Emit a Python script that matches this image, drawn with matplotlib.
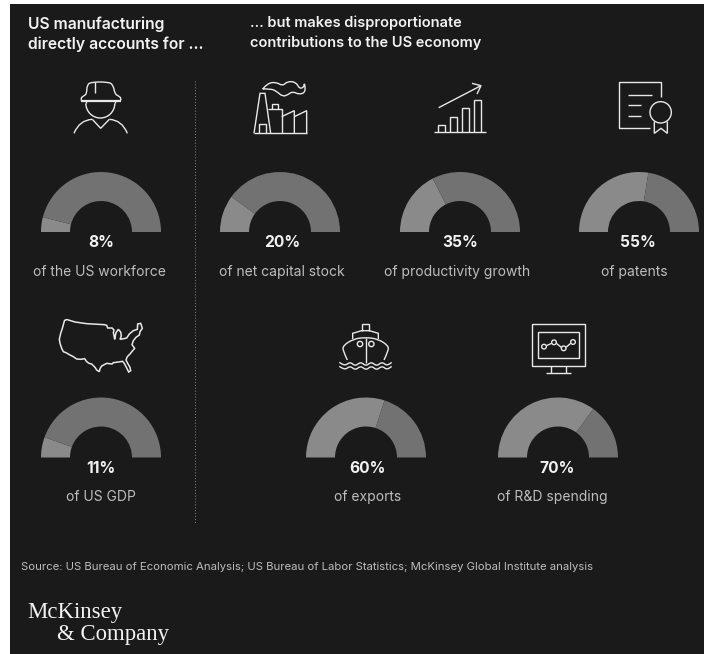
# -*- coding: utf-8 -*-
# US manufacturing share of the economy, half-donut gauges on a dark panel

#==================================
#          modules
#==================================
import numpy as np
import matplotlib
matplotlib.use('Agg')
import matplotlib.pyplot as plt
from matplotlib.patches import Wedge, Rectangle, Circle, Arc, PathPatch
from matplotlib.path import Path

#==================================
#          data
#==================================
shares = [8, 20, 35, 55, 11, 60, 70]
captions = ['of the US workforce', 'of net capital stock', 'of productivity growth',
            'of patents', 'of US GDP', 'of exports', 'of R&D spending']
centers_x = [101, 280, 460, 639, 101, 366, 558]
bases_y = [232, 232, 232, 232, 457.5, 457.5, 457.5]
caption_x = [99.5, 282, 457, 634, 101, 367.5, 552.5]
caption_y = [276, 276, 276, 276, 501, 501, 501]
percent_x = [101, 282, 460, 638, 101, 367.5, 557.5]

BG = '#1a1a1a'
LIGHT = '#8a8a8a'
DARK = '#727272'
ICON = '#e8e8e8'
SANS = 'Inter'

#==================================
#          figure
#==================================
fig = plt.figure(figsize=(7.04, 6.54), dpi=100, facecolor='white')
ax = fig.add_axes([0, 0, 1, 1])
ax.set_xlim(0, 704)
ax.set_ylim(654, 0)
ax.axis('off')
ax.add_patch(Rectangle((10, 4), 694, 650, fc=BG, ec='none'))


def poly(pts, ox=0, oy=0, s=1/3, closed=False, lw=1.0):
    a = np.array(pts, dtype=float)*s + [ox, oy]
    if closed:
        a = np.vstack([a, a[0]])
    ax.plot(a[:, 0], a[:, 1], color=ICON, lw=lw, solid_joinstyle='miter', solid_capstyle='butt')


def curve(pts, ox=0, oy=0, s=1/3, lw=1.0):
    # quadratic segments through the midpoints of the control polygon
    a = np.array(pts, dtype=float)*s + [ox, oy]
    verts = [a[0]]
    codes = [Path.MOVETO]
    for i in range(1, len(a)-1):
        verts += [a[i], (a[i]+a[i+1])/2 if i < len(a)-2 else a[i+1]]
        codes += [Path.CURVE3, Path.CURVE3]
    ax.add_patch(PathPatch(Path(verts, codes), fc='none', ec=ICON, lw=lw))


def circle(cx, cy, r, ox=0, oy=0, s=1/3, lw=1.0):
    ax.add_patch(Circle((cx*s+ox, cy*s+oy), r*s, fc='none', ec=ICON, lw=lw))


#==================================
#          icons
#==================================
def worker():
    ox, oy = 60, 70
    curve([(65, 93), (61, 85), (72, 77), (80, 72), (81, 44), (95, 36), (145, 36), (159, 44), (165, 72),
           (174, 77), (185, 85), (181, 93)], ox, oy)
    poly([(62, 93), (183, 93)], ox, oy, lw=1.6)
    poly([(105, 36), (105, 68)], ox, oy)
    ax.add_patch(Arc((60+121/3, 70+100/3), 87/3, 88/3, theta1=0, theta2=180, ec=ICON, lw=1.0))
    poly([(78, 93), (78, 100)], ox, oy)
    poly([(165, 93), (165, 100)], ox, oy)
    curve([(42, 190), (58, 150), (97, 148)], ox, oy)
    poly([(97, 148), (122, 175), (148, 148)], ox, oy)
    curve([(148, 148), (186, 150), (202, 190)], ox, oy)


def factory():
    ox, oy = 240, 70
    poly([(42, 190), (200, 190)], ox, oy)
    poly([(42, 190), (60, 70), (75, 70), (92, 190)], ox, oy)
    poly([(57, 190), (57, 163), (78, 163), (78, 190)], ox, oy)
    poly([(83, 118), (125, 118), (125, 190)], ox, oy)
    poly([(95, 118), (95, 103), (113, 103), (113, 118)], ox, oy)
    poly([(125, 140), (163, 122), (163, 190)], ox, oy)
    poly([(163, 140), (200, 122), (200, 190)], ox, oy)
    curve([(68, 57), (82, 40), (108, 36), (128, 48), (142, 34), (168, 36), (178, 56), (192, 52), (193, 36),
           (197, 66), (178, 74), (158, 64), (144, 74), (128, 80), (110, 64), (92, 56), (68, 57)], ox, oy)


def growth():
    ox, oy = 352, 0
    poly([(245, 396), (402, 396)], ox, oy)
    for left, top in zip([259, 295, 330, 365], [375, 350, 325, 300]):
        poly([(left, 396), (left, top), (left+21, top), (left+21, 396)], ox, oy)
    poly([(260, 323), (387, 257)], ox, oy)
    poly([(360, 250), (387, 257), (375, 282)], ox, oy)


def patent():
    ox, oy = 352, 0
    poly([(927, 290), (927, 246), (800, 246), (800, 383), (893, 383)], ox, oy)
    poly([(828, 284), (900, 284)], ox, oy)
    poly([(828, 315), (868, 315)], ox, oy)
    poly([(828, 347), (868, 347)], ox, oy)
    circle(926, 337, 32, ox, oy)
    poly([(907, 365), (907, 400), (927, 385), (946, 400), (946, 365)], ox, oy)


def usa():
    ox, oy = 50, 310
    poly([(44, 30), (52, 29), (75, 36), (110, 41), (163, 44), (170, 46), (173, 54), (186, 54), (192, 60),
          (190, 68), (192, 76), (194, 88), (198, 68), (205, 58), (212, 66), (214, 78), (210, 88), (222, 86),
          (230, 84), (238, 72), (250, 62), (262, 58), (263, 42), (272, 40), (277, 55), (270, 65), (268, 75),
          (258, 82), (250, 92), (246, 104), (254, 115), (248, 122), (240, 132), (232, 140), (228, 150),
          (233, 160), (240, 172), (242, 182), (236, 186), (230, 174), (224, 162), (218, 154), (205, 156),
          (190, 158), (186, 162), (170, 160), (155, 168), (150, 176), (148, 185), (140, 180), (135, 172),
          (125, 162), (117, 160), (110, 155), (104, 146), (92, 148), (80, 147), (70, 140), (60, 135),
          (48, 128), (40, 125), (35, 115), (30, 100), (28, 88), (32, 70), (37, 55)], ox, oy, closed=True, lw=1.1)


def ship():
    ox, oy = 330, 315
    poly([(95, 47), (95, 28), (118, 28), (118, 47)], ox, oy)
    poly([(68, 72), (68, 55), (95, 47), (118, 47), (145, 55), (145, 72)], ox, oy)
    curve([(52, 135), (39, 108), (39, 92), (70, 72), (107, 67), (144, 72), (175, 92), (175, 108), (162, 135)], ox, oy)
    poly([(107, 68), (107, 145)], ox, oy)
    circle(90, 87, 8, ox, oy)
    circle(124, 87, 8, ox, oy)
    for y in [146, 158]:
        curve([(28, y-4), (44, y+8), (60, y-6), (76, y+8), (92, y-6), (108, y+8), (124, y-6), (140, y+8),
               (156, y-6), (172, y+8), (185, y-4)], ox, oy)


def monitor():
    ox, oy = 290, 310
    poly([(726, 42), (885, 42), (885, 168), (726, 168)], ox, oy, closed=True)
    poly([(745, 67), (867, 67), (867, 144), (745, 144)], ox, oy, closed=True)
    poly([(782, 168), (782, 188)], ox, oy)
    poly([(828, 168), (828, 188)], ox, oy)
    poly([(768, 188), (842, 188)], ox, oy)
    poly([(769, 107), (785, 100)], ox, oy)
    poly([(799, 100), (814, 112)], ox, oy)
    poly([(828, 112), (842, 100)], ox, oy)
    for cx, cy in [(762, 110), (792, 97), (821, 115), (849, 96)]:
        circle(cx, cy, 7, ox, oy)


for icon in [worker, factory, growth, patent, usa, ship, monitor]:
    icon()

#==================================
#          gauges
#==================================
for i, share in enumerate(shares):
    cx, by = centers_x[i], bases_y[i]
    split = 180 + 180*share/100
    ax.add_patch(Wedge((cx, by), 60, 180, split, width=29, fc=LIGHT, ec='none'))
    ax.add_patch(Wedge((cx, by), 60, split, 360, width=29, fc=DARK, ec='none'))
    ax.text(percent_x[i], by+15.3, '%d%%' % share, color='#f2f2f2', fontsize=11.2, fontweight='bold',
            family=SANS, ha='center', va='baseline')
    ax.text(caption_x[i], caption_y[i], captions[i], color='#bdbdbd', fontsize=10.0,
            family=SANS, ha='center', va='baseline')

#==================================
#          text
#==================================
ax.plot([195.3, 195.3], [81, 523], color='#8a8a8a', lw=0.7, ls=(0, (1, 2)))

ax.text(28, 28.5, 'US manufacturing', color='#f2f2f2', fontsize=11.3, fontweight='semibold', family=SANS)
ax.text(28, 48.5, 'directly accounts for …', color='#f2f2f2', fontsize=11.3, fontweight='semibold', family=SANS)
ax.text(250, 27.5, '… but makes disproportionate', color='#f2f2f2', fontsize=10.5, fontweight='semibold', family=SANS)
ax.text(250, 47, 'contributions to the US economy', color='#f2f2f2', fontsize=10.5, fontweight='semibold', family=SANS)

ax.text(21, 569.5, 'Source: US Bureau of Economic Analysis; US Bureau of Labor Statistics; McKinsey Global Institute analysis',
        color='#bdbdbd', fontsize=8.17, family=SANS)

ax.text(27, 618, 'McKinsey', color='#f2f2f2', fontsize=16.4, family='Liberation Serif')
ax.text(57, 640, '& Company', color='#f2f2f2', fontsize=16.4, family='Liberation Serif')

plt.savefig('out.png', dpi=100, facecolor=fig.get_facecolor())
